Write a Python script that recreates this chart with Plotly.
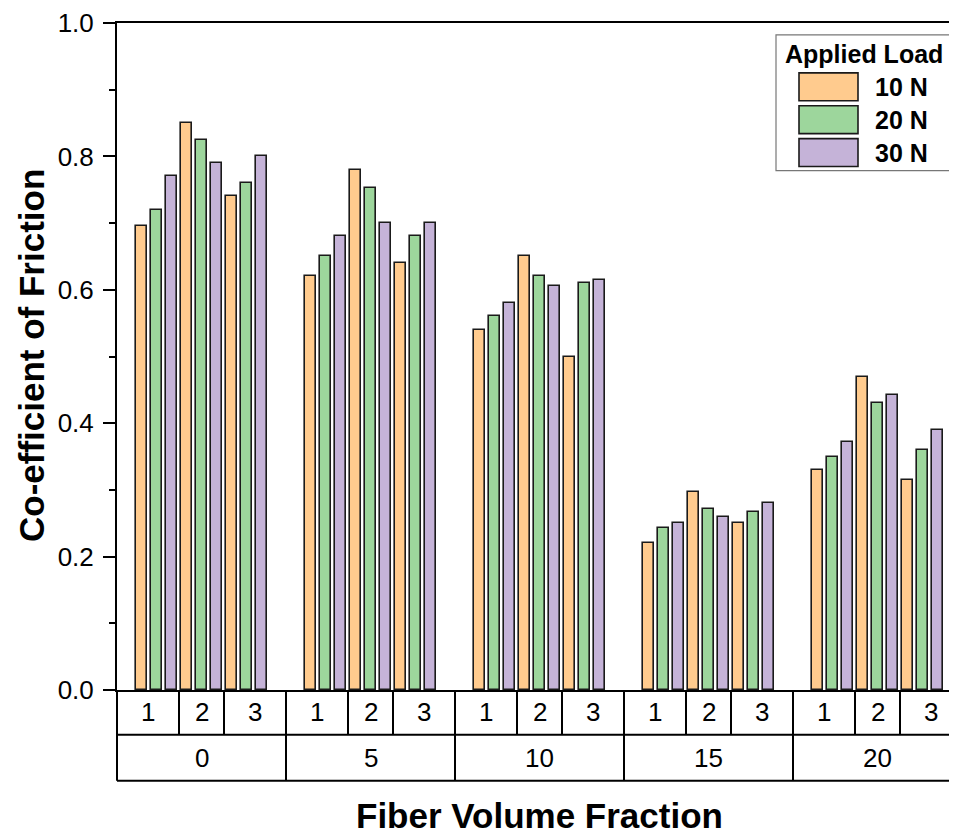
import plotly.graph_objects as go

# ---------------- data ----------------
fiber_fractions = ["0", "5", "10", "15", "20"]
samples = ["1", "2", "3"]
loads = ["10 N", "20 N", "30 N"]
# order: fiber fraction 0 (samples 1,2,3), 5 (1,2,3), ...
cof_10N = [0.695, 0.850, 0.740, 0.620, 0.780, 0.640, 0.540, 0.650, 0.500,
           0.220, 0.297, 0.250, 0.330, 0.470, 0.315]
cof_20N = [0.720, 0.825, 0.760, 0.650, 0.753, 0.680, 0.560, 0.620, 0.610,
           0.243, 0.272, 0.267, 0.350, 0.430, 0.360]
cof_30N = [0.770, 0.790, 0.800, 0.680, 0.700, 0.700, 0.580, 0.605, 0.615,
           0.250, 0.260, 0.280, 0.372, 0.443, 0.390]
series = [cof_10N, cof_20N, cof_30N]
colors = ["#FFCB8E", "#9DD69C", "#C5B3D8"]
y_ticks = [0.0, 0.2, 0.4, 0.6, 0.8, 1.0]

# ---------------- layout geometry (page pixels; page body has an 8px margin) ----------------
OFF = 8
W, H = 957 - OFF, 836 - OFF
L, R, T, B = 117, 957, 21, 690      # plot area in page pixels
PITCH_PX = 15.0                     # pixels per bar slot
G = 169.0 / PITCH_PX                # group width in slots
x0 = -G / 2
x1 = x0 + (R - L) / PITCH_PX
FONT = "Liberation Sans, Arial, sans-serif"


def X(px):
    return (px - L) / (R - L)


def Y(py):
    return (B - py) / (B - T)


def xd2p(x):
    return (x - x0) / (x1 - x0)


fig = go.Figure()
for li, (name, vals, col) in enumerate(zip(loads, series, colors)):
    xs = []
    for gi in range(len(fiber_fractions)):
        for si in range(len(samples)):
            xs.append(gi * G + si * 3 + li - 4)
    fig.add_trace(go.Bar(
        x=xs, y=vals, name=name, width=0.78,
        marker=dict(color=col, line=dict(color="#1a1a1a", width=1.6)),
        showlegend=False,
    ))

shapes = []
annotations = []
line = dict(color="black", width=2)
row1 = Y(735)
row2 = Y(781)
# horizontal table lines
shapes.append(dict(type="line", xref="paper", yref="paper", x0=0, x1=1, y0=row1, y1=row1, line=line))
shapes.append(dict(type="line", xref="paper", yref="paper", x0=0, x1=1, y0=row2, y1=row2, line=line))
sub_half = (G / 2 + 1.5) / 2
for gi, gname in enumerate(fiber_fractions):
    c = gi * G
    for bx in (c - G / 2, c + G / 2):
        px = xd2p(bx)
        if px <= 1.0:
            shapes.append(dict(type="line", xref="paper", yref="paper", x0=px, x1=px,
                               y0=0, y1=row2, line=line))
    for bx in (c - 1.5, c + 1.5):
        px = xd2p(bx)
        shapes.append(dict(type="line", xref="paper", yref="paper", x0=px, x1=px,
                           y0=0, y1=row1, line=line))
    for si, sname in enumerate(samples):
        sx = c + (si - 1) * sub_half if si != 1 else c
        annotations.append(dict(text=sname, xref="paper", yref="paper", x=xd2p(sx),
                                y=Y(712.5), showarrow=False, xanchor="center", yanchor="middle",
                                font=dict(family=FONT, size=26, color="black")))
    annotations.append(dict(text=gname, xref="paper", yref="paper", x=xd2p(c),
                            y=Y(758), showarrow=False, xanchor="center", yanchor="middle",
                            font=dict(family=FONT, size=26, color="black")))

# axis titles
annotations.append(dict(text="<b>Fiber Volume Fraction</b>", xref="paper", yref="paper",
                        x=xd2p(2 * G), y=Y(816), showarrow=False, xanchor="center", yanchor="middle",
                        font=dict(family=FONT, size=35, color="black")))
annotations.append(dict(text="<b>Co-efficient of Friction</b>", xref="paper", yref="paper",
                        x=X(31), y=Y(355), showarrow=False, xanchor="center", yanchor="middle",
                        textangle=-90, font=dict(family=FONT, size=35, color="black")))

# custom legend
shapes.append(dict(type="rect", xref="paper", yref="paper", x0=X(776), x1=X(951),
                   y0=Y(169), y1=Y(33), line=dict(color="#777777", width=1.2),
                   fillcolor="white", layer="above"))
annotations.append(dict(text="<b>Applied Load</b>", xref="paper", yref="paper",
                        x=X(863.5), y=Y(52), showarrow=False, xanchor="center", yanchor="middle",
                        font=dict(family=FONT, size=25, color="black")))
rows = [(71, 99), (104, 132), (137, 165)]
for (ya, yb), name, col in zip(rows, loads, colors):
    shapes.append(dict(type="rect", xref="paper", yref="paper", x0=X(799), x1=X(858),
                       y0=Y(yb), y1=Y(ya), line=dict(color="#1a1a1a", width=1.6),
                       fillcolor=col, layer="above"))
    annotations.append(dict(text="<b>" + name + "</b>", xref="paper", yref="paper",
                            x=X(873), y=Y((ya + yb) / 2), showarrow=False, xanchor="left",
                            yanchor="middle", font=dict(family=FONT, size=25, color="black")))

fig.update_layout(
    width=W, height=H,
    margin=dict(l=L - OFF, r=W - (R - OFF), t=T - OFF, b=H - (B - OFF), pad=0),
    paper_bgcolor="white", plot_bgcolor="white",
    barmode="overlay", bargap=0,
    showlegend=False,
    shapes=shapes, annotations=annotations,
    xaxis=dict(range=[x0, x1], showline=True, linecolor="black", linewidth=2, mirror=True,
               showticklabels=False, ticks="", showgrid=False, zeroline=False),
    yaxis=dict(range=[0, 1.0], tickvals=y_ticks, tickformat=".1f", showline=True,
               linecolor="black", linewidth=2, mirror=False, ticks="outside", ticklen=12,
               tickwidth=2, tickcolor="black", showgrid=False, zeroline=False,
               ticklabelstandoff=4, ticklabeloverflow="allow",
               tickfont=dict(family=FONT, size=26, color="black"),
               minor=dict(dtick=0.1, ticks="outside", ticklen=6, tickwidth=2, tickcolor="black")),
)

fig.write_html("out.html")
